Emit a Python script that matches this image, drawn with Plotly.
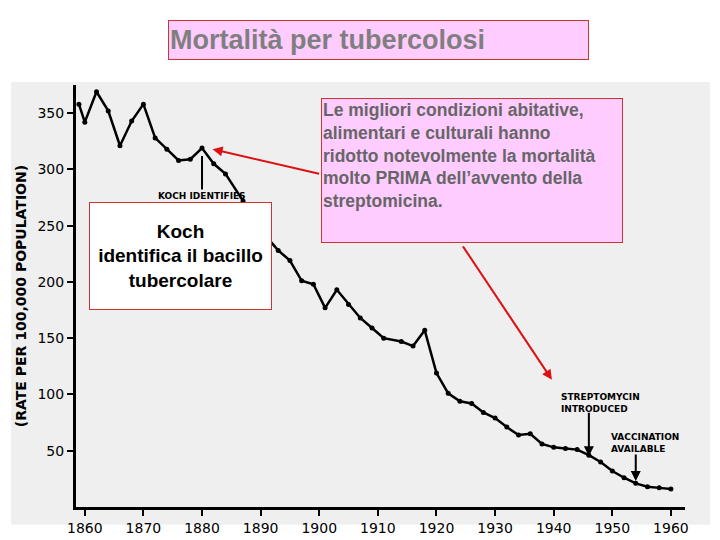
import plotly.graph_objects as go

# tuberculosis death rate per 100,000
years = [1859, 1860, 1862, 1864, 1866, 1868, 1870, 1872, 1874, 1876, 1878, 1880,
         1882, 1884, 1887, 1889, 1891, 1893, 1895, 1897, 1899, 1901, 1903, 1905,
         1907, 1909, 1911, 1914, 1916, 1918, 1920, 1922, 1924, 1926, 1928, 1930,
         1932, 1934, 1936, 1938, 1940, 1942, 1944, 1946, 1948, 1950, 1952, 1954,
         1956, 1958, 1960]
rates = [358, 342, 369, 352, 321, 343, 358, 328, 318, 308, 309, 319,
         305, 296, 272, 258, 240, 228, 219, 201, 198, 177, 193, 180,
         168, 159, 150, 147, 143, 157, 119, 101, 94, 92, 84, 79,
         71, 64, 65, 56, 53, 52, 51, 46, 40, 32, 26, 21,
         18, 17, 16]
x_ticks = [1860, 1870, 1880, 1890, 1900, 1910, 1920, 1930, 1940, 1950, 1960]
y_ticks = [50, 100, 150, 200, 250, 300, 350]

OFF = 8
W, H = 720, 540
L, R, T, B = 75 - OFF, W - 685 + OFF, 85 - OFF, H - 510 + OFF
pw, ph = W - L - R, H - T - B


def px(x, y):
    # screen pixels -> paper coordinates
    return (x - OFF - L) / pw, (H - B - (y - OFF)) / ph


fig = go.Figure(go.Scatter(x=years, y=rates, mode='lines+markers',
                           line=dict(color='black', width=2.5),
                           marker=dict(color='black', size=5)))

bx0, by0 = px(10, 82)
bx1, by1 = px(710, 528)
fig.add_shape(type='rect', xref='paper', yref='paper', x0=bx0, y0=by1, x1=bx1, y1=by0,
              fillcolor='#efefef', line_width=0, layer='below')

ann = []
# small labels from the original scan
ann.append(dict(x=1880, y=312, text='', showarrow=True, arrowhead=0, arrowwidth=2,
                arrowcolor='black', ax=0, ay=35))
ann.append(dict(x=1880, y=276, text='<b>KOCH IDENTIFIES</b>', showarrow=False,
                font=dict(size=9, color='black', family='DejaVu Sans')))
ann.append(dict(x=1946, y=45, text='', showarrow=True, arrowhead=2, arrowwidth=2,
                arrowcolor='black', ax=0, ay=-45))
ann.append(dict(x=1948, y=92, text='<b>STREPTOMYCIN<br>INTRODUCED</b>', showarrow=False,
                align='left', font=dict(size=9, color='black', family='DejaVu Sans')))
ann.append(dict(x=1954, y=23, text='', showarrow=True, arrowhead=2, arrowwidth=2,
                arrowcolor='black', ax=0, ay=-28))
ann.append(dict(x=1955.5, y=57, text='<b>VACCINATION<br>AVAILABLE</b>', showarrow=False,
                align='left', font=dict(size=9, color='black', family='DejaVu Sans')))

# red arrows
ann.append(dict(x=1881.8, y=318, text='', showarrow=True, arrowhead=2, arrowwidth=2,
                arrowcolor='#dd1111', ax=108, ay=25))
ann.append(dict(x=1939.7, y=113, text='', showarrow=True, arrowhead=2, arrowwidth=2,
                arrowcolor='#dd1111', ax=-90, ay=-135))

# text boxes
tx, ty = px(167, 20)
ann.append(dict(xref='paper', yref='paper', x=tx, y=ty, xanchor='left', yanchor='top',
                text='<b>Mortalità per tubercolosi</b>', showarrow=False, width=417, height=36,
                align='left', valign='middle', bgcolor='#ffccff', bordercolor='#cc3333',
                borderwidth=1, font=dict(size=27, color='#7f7f7f', family='Liberation Sans')))
tx, ty = px(320, 98)
ann.append(dict(xref='paper', yref='paper', x=tx, y=ty, xanchor='left', yanchor='top',
                text='<b>Le migliori condizioni abitative,<br>alimentari e culturali hanno<br>'
                     'ridotto notevolmente la mortalità<br>molto PRIMA dell’avvento della<br>streptomicina.</b>',
                showarrow=False, width=298, height=141, align='left', valign='top',
                bgcolor='#ffccff', bordercolor='#cc3333', borderwidth=1,
                font=dict(size=17.5, color='#666666', family='Liberation Sans')))
tx, ty = px(88, 203)
ann.append(dict(xref='paper', yref='paper', x=tx, y=ty, xanchor='left', yanchor='top',
                text='<b>Koch<br>identifica il bacillo<br>tubercolare</b>',
                showarrow=False, width=179, height=104, align='center', valign='middle',
                bgcolor='white', bordercolor='#cc3333', borderwidth=1,
                font=dict(size=19, color='black', family='Liberation Sans')))

fig.update_layout(
    width=W, height=H, margin=dict(l=L, r=R, t=T, b=B),
    paper_bgcolor='white', plot_bgcolor='#efefef', showlegend=False,
    annotations=ann,
    xaxis=dict(range=[1858.5, 1962.4], tickvals=x_ticks, showgrid=False, zeroline=False,
               showline=True, linecolor='black', linewidth=3, ticks='outside',
               ticklen=6, tickwidth=2, tickcolor='black',
               tickfont=dict(size=14, color='black', family='DejaVu Sans')),
    yaxis=dict(range=[0, 375], tickvals=y_ticks, showgrid=False, zeroline=False,
               showline=True, linecolor='black', linewidth=3, ticks='outside',
               ticklen=6, tickwidth=2, tickcolor='black',
               tickfont=dict(size=14, color='black', family='DejaVu Sans'),
               title=dict(text='<b>(RATE PER 100,000 POPULATION)</b>', standoff=8,
                          font=dict(size=14, color='black', family='DejaVu Sans'))),
)

fig.write_html('out.html')
